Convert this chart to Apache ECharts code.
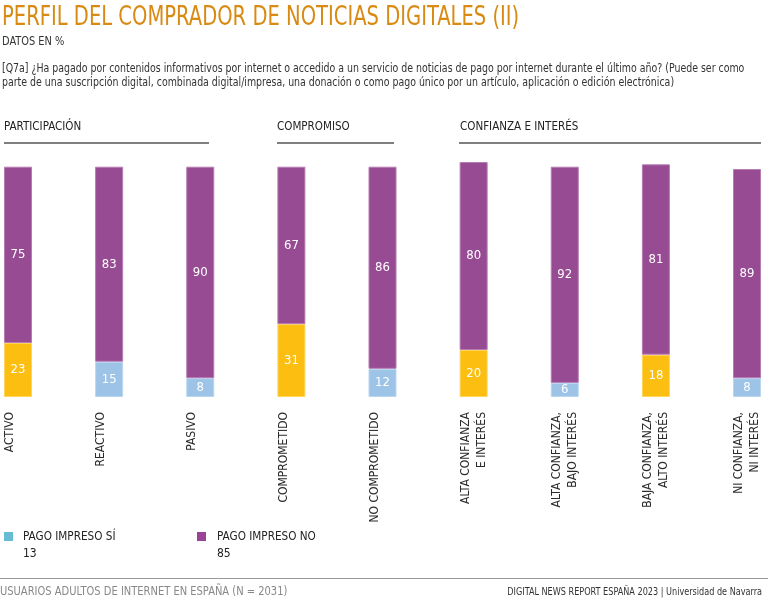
<!DOCTYPE html>
<html>
<head>
<meta charset="utf-8">
<script src="https://cdn.jsdelivr.net/npm/echarts@6/dist/echarts.min.js"></script>
<style>html,body{margin:0;padding:0;background:#fff}#c{width:768px;height:608px}</style>
</head>
<body>
<div id="c"></div>
<script>
const categories = [
  'ACTIVO\n ', 'REACTIVO\n ', 'PASIVO\n ', 'COMPROMETIDO\n ', 'NO COMPROMETIDO\n ',
  'ALTA CONFIANZA\nE INTERÉS', 'ALTA CONFIANZA,\nBAJO INTERÉS', 'BAJA CONFIANZA,\nALTO INTERÉS', 'NI CONFIANZA,\nNI INTERÉS'
];
const pagoImpresoSi = [23, 15, 8, 31, 12, 20, 6, 18, 8];
const pagoImpresoNo = [75, 83, 90, 67, 86, 80, 92, 81, 89];
const highlighted = [0, 3, 5, 7];
const groups = ['PARTICIPACIÓN', 'COMPROMISO', 'CONFIANZA E INTERÉS'];
const legendTotals = ['13', '85'];

const FONT = '"Liberation Sans Narrow","DejaVu Sans Condensed",sans-serif';
const chart = echarts.init(document.getElementById('c'), null, {renderer: 'canvas'});

function txt(text, x, y, size, color, align, extra) {
  return Object.assign({
    type: 'text', x: x, y: y,
    style: {text: text, fill: color, fontSize: size, fontFamily: FONT, align: align || 'left', verticalAlign: 'middle'}
  }, extra || {});
}
function line(x1, y1, x2, y2, color, w) {
  return {type: 'line', shape: {x1: x1, y1: y1, x2: x2, y2: y2}, style: {stroke: color, lineWidth: w}};
}
function isHi(i) { return highlighted.indexOf(i) >= 0; }

const siData = pagoImpresoSi.map(function (v, i) {
  return {
    value: v,
    itemStyle: isHi(i)
      ? {color: '#FDBE12', borderColor: '#FFD55C', borderWidth: 1}
      : {color: '#9DC3E6', borderColor: '#BBD6EF', borderWidth: 1}
  };
});

chart.setOption({
  animation: false,
  grid: {left: 18, right: 21, top: 162, bottom: 211},
  xAxis: {
    type: 'category', data: categories, boundaryGap: false,
    axisLine: {show: false}, axisTick: {show: false},
    axisLabel: {rotate: 90, margin: 15, fontSize: 12, fontFamily: FONT, color: '#2b2b2b', lineHeight: 16, interval: 0}
  },
  yAxis: {type: 'value', min: 0, max: 100, show: false, splitLine: {show: false}},
  series: [
    {
      name: 'PAGO IMPRESO SÍ', type: 'bar', stack: 'a', barWidth: 28, data: siData,
      label: {show: true, position: 'inside', color: '#fff', fontSize: 13, fontFamily: FONT}
    },
    {
      name: 'PAGO IMPRESO NO', type: 'bar', stack: 'a', barWidth: 28, data: pagoImpresoNo,
      itemStyle: {color: '#964B93', borderColor: '#B57BB3', borderWidth: 1},
      label: {show: true, position: 'inside', color: '#fff', fontSize: 13, fontFamily: FONT}
    }
  ],
  graphic: [
    txt('PERFIL DEL COMPRADOR DE NOTICIAS DIGITALES (II)', 2, 18.5, 26, '#D88A12', 'left', {scaleX: 0.836}),
    txt('DATOS EN %', 2, 42, 11.5, '#333', 'left', {scaleX: 0.95}),
    txt('[Q7a] ¿Ha pagado por contenidos informativos por internet o accedido a un servicio de noticias de pago por internet durante el último año? (Puede ser como', 2, 69, 12, '#333', 'left', {scaleX: 0.872}),
    txt('parte de una suscripción digital, combinada digital/impresa, una donación o como pago único por un artículo, aplicación o edición electrónica)', 2, 83, 12, '#333', 'left', {scaleX: 0.872}),
    txt(groups[0], 4, 127, 12, '#222', 'left', {scaleX: 0.96}),
    txt(groups[1], 277, 127, 12, '#222', 'left', {scaleX: 0.96}),
    txt(groups[2], 460, 127, 12, '#222', 'left', {scaleX: 0.96}),
    line(4, 143, 209, 143, '#555', 1.5),
    line(277, 143, 394, 143, '#555', 1.5),
    line(459, 143, 761, 143, '#555', 1.5),
    {type: 'rect', shape: {x: 4, y: 532, width: 9, height: 9}, style: {fill: '#66BDD3'}},
    txt('PAGO IMPRESO SÍ', 23, 537, 12, '#222', 'left', {scaleX: 0.97}),
    txt(legendTotals[0], 23, 554, 12, '#222', 'left'),
    {type: 'rect', shape: {x: 197, y: 532, width: 9, height: 9}, style: {fill: '#9B4497'}},
    txt('PAGO IMPRESO NO', 217, 537, 12, '#222', 'left', {scaleX: 0.97}),
    txt(legendTotals[1], 217, 554, 12, '#222', 'left'),
    line(0, 578.5, 768, 578.5, '#999', 1),
    txt('USUARIOS ADULTOS DE INTERNET EN ESPAÑA (N = 2031)', 0, 592, 11.5, '#888', 'left', {scaleX: 0.96}),
    txt('DIGITAL NEWS REPORT ESPAÑA 2023 | Universidad de Navarra', 762, 592, 10.5, '#333', 'right', {scaleX: 0.86})
  ]
});
</script>
</body>
</html>
